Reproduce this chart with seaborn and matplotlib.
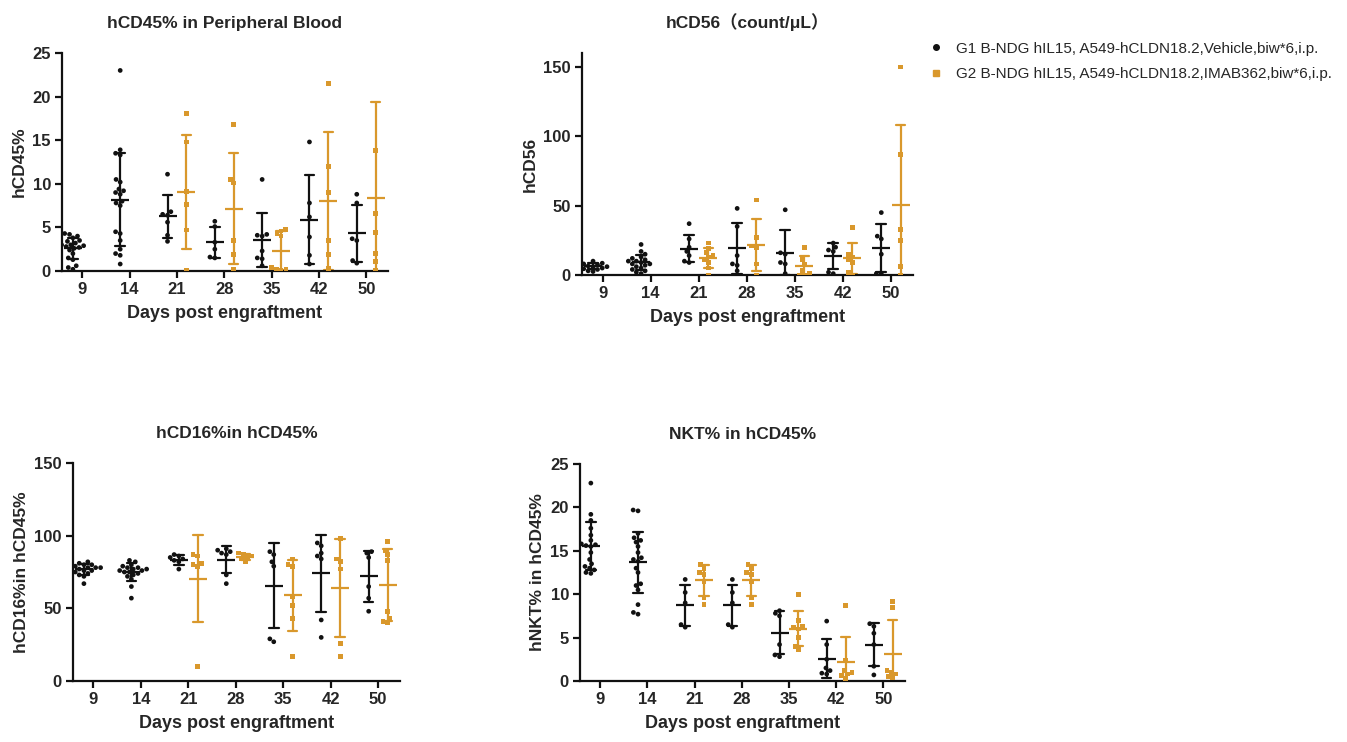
import warnings
import pandas as pd
import matplotlib.pyplot as plt
from matplotlib.lines import Line2D
import seaborn as sns

warnings.filterwarnings('ignore')

days = ['9', '14', '21', '28', '35', '42', '50']
G1 = 'G1 B-NDG hIL15, A549-hCLDN18.2,Vehicle,biw*6,i.p.'
G2 = 'G2 B-NDG hIL15, A549-hCLDN18.2,IMAB362,biw*6,i.p.'
groups = [G1, G2]
colors = {G1: '#111111', G2: '#D9982C'}

# hCD45% in peripheral blood (one list per day)
cd45_g1 = [
    [4.3, 4.2, 4.0, 3.8, 3.5, 3.4, 3.2, 3.0, 3.0, 2.9, 2.8, 2.7, 2.6, 2.4, 2.0, 1.5, 1.3, 0.6, 0.4, 0.2],
    [23.0, 13.9, 13.5, 13.3, 10.5, 10.2, 9.4, 9.2, 9.0, 8.8, 8.0, 7.8, 7.5, 4.5, 4.3, 3.5, 2.5, 2.0, 1.8, 0.8],
    [11.1, 6.8, 6.5, 6.4, 5.6, 4.1, 3.4],
    [5.7, 5.1, 3.3, 2.5, 1.6, 1.5],
    [10.5, 4.2, 4.1, 4.0, 2.3, 1.5, 1.4, 0.6],
    [14.8, 7.8, 6.2, 3.9, 1.8, 0.8],
    [8.8, 7.8, 3.7, 3.5, 1.2, 0.9],
]
cd45_g2 = [
    [], [],
    [18.1, 14.8, 9.1, 7.6, 4.7, 0.1],
    [16.8, 10.5, 10.1, 3.5, 1.9, 0.2],
    [4.8, 4.6, 4.3, 4.0, 0.4, 0.2, 0.2, 0.1],
    [21.5, 12.0, 9.0, 3.5, 1.9, 0.3],
    [31.0, 13.8, 6.6, 4.4, 2.0, 1.1, 0.1],
]

# hCD56 count/uL
cd56_g1 = [
    [10, 9, 8.5, 8, 7.5, 7, 6.5, 6, 6, 5.5, 5, 4.5, 4, 3, 2.5],
    [22, 17, 15, 13, 12, 11, 10, 10, 9, 8, 8, 7, 6, 5, 4, 3, 2, 1],
    [37, 26, 20, 17, 14, 10, 9],
    [48, 35, 14, 8, 7, 3],
    [47, 16, 15, 9, 8, 1],
    [23, 20, 18, 17, 2, 1],
    [45, 28, 26, 15, 1, 1],
]
cd56_g2 = [
    [], [],
    [23, 19, 16, 14, 13, 11, 9, 5, 0],
    [54, 27, 21, 20, 8, 0],
    [20, 11, 8, 3, 1, 0, 0],
    [34, 15, 13, 11, 9, 2, 0],
    [150, 87, 33, 25, 6, 0],
]

# hCD16% in hCD45%
cd16_g1 = [
    [82, 81, 80, 80, 79, 79, 78, 78, 78, 77, 77, 76, 76, 75, 74, 73, 72, 67],
    [83, 82, 80, 79, 78, 78, 77, 77, 76, 76, 75, 75, 74, 73, 72, 70, 65, 57],
    [87, 86, 85, 84, 83, 82, 77],
    [91, 90, 89, 88, 87, 73, 67],
    [89, 87, 82, 79, 29, 27],
    [95, 93, 88, 86, 84, 42, 30],
    [89, 88, 85, 65, 57, 48],
]
cd16_g2 = [
    [], [],
    [87, 86, 81, 80, 79, 10],
    [88, 87, 86, 85, 84, 82],
    [84, 80, 79, 58, 52, 43, 17],
    [98, 84, 82, 77, 26, 17],
    [96, 90, 87, 83, 48, 43, 41, 40],
]

# hNKT% in hCD45%
nkt_g1 = [
    [22.8, 19.2, 18.5, 17.6, 16.8, 16.2, 15.8, 15.7, 15.6, 15.5, 14.8, 14.0, 13.5, 13.2, 13.0, 12.8, 12.5, 12.4],
    [19.7, 19.6, 17.0, 16.5, 16.2, 16.0, 15.5, 14.8, 14.2, 14.0, 13.8, 13.0, 12.5, 11.2, 11.0, 10.5, 8.8, 7.9, 7.7],
    [11.7, 10.2, 9.0, 6.5, 6.2],
    [11.7, 10.2, 9.0, 6.5, 6.2],
    [8.1, 7.8, 7.5, 4.2, 3.0, 2.8],
    [6.9, 4.2, 2.5, 1.5, 1.2, 0.9, 0.8],
    [6.6, 6.3, 5.5, 4.2, 1.7, 0.7],
]
nkt_g2 = [
    [], [],
    [13.4, 13.0, 12.5, 12.3, 11.5, 9.6, 8.8],
    [13.4, 13.0, 12.5, 12.3, 11.5, 9.6, 8.8],
    [10.0, 7.0, 6.3, 6.2, 6.0, 5.0, 4.0, 3.6],
    [8.7, 2.4, 1.2, 1.0, 0.8, 0.6, 0.3],
    [9.2, 8.5, 1.2, 1.0, 0.8, 0.5, 0.4],
]

sns.set_style('ticks')
plt.rcParams['font.family'] = ['Liberation Sans', 'Noto Sans CJK SC', 'DejaVu Sans']


def long_df(g1, g2):
    rows = []
    for day, vals in zip(days, g1):
        rows += [(day, G1, v) for v in vals]
    for day, vals in zip(days, g2):
        rows += [(day, G2, v) for v in vals]
    return pd.DataFrame(rows, columns=['day', 'group', 'value'])


def draw(ax, df, title, ylabel, ylim, yticks):
    for grp, mk in [(G1, 'o'), (G2, 's')]:
        sns.swarmplot(data=df[df.group == grp], x='day', y='value', hue='group',
                      order=days, hue_order=groups, palette=colors, dodge=True,
                      size=3.4, marker=mk, legend=False, ax=ax)
    sns.pointplot(data=df, x='day', y='value', hue='group', order=days, hue_order=groups,
                  palette=colors, dodge=0.4, errorbar='sd', capsize=0.2,
                  linestyle='none', marker='_', markersize=13, markeredgewidth=1.6,
                  err_kws={'linewidth': 1.6}, legend=False, ax=ax)
    ax.set_xlim(-0.43, 6.46)
    ax.set_ylim(*ylim)
    ax.set_yticks(yticks)
    sns.despine(ax=ax)
    for s in ['left', 'bottom']:
        ax.spines[s].set_linewidth(1.6)
        ax.spines[s].set_color('#111111')
    ax.tick_params(width=1.6, length=5, labelsize=12, color='#111111', pad=3)
    for lab in ax.get_xticklabels() + ax.get_yticklabels():
        lab.set_fontweight('bold')
    ax.set_title(title, fontsize=12.5, fontweight='bold', pad=18)
    ax.set_xlabel('Days post engraftment', fontsize=13, fontweight='bold', labelpad=6)
    ax.set_ylabel(ylabel, fontsize=12.5, fontweight='bold', labelpad=4)


fig = plt.figure(figsize=(13.47, 7.42), dpi=100)
W, H = 1347, 742


def axes_px(x0, x1, y0, y1):
    return fig.add_axes([x0 / W, 1 - y1 / H, (x1 - x0) / W, (y1 - y0) / H])


ax1 = axes_px(62, 388, 53, 271)
ax2 = axes_px(582, 913, 53, 275)
ax3 = axes_px(73, 400, 463, 681)
ax4 = axes_px(580, 905, 464, 681)

draw(ax1, long_df(cd45_g1, cd45_g2), 'hCD45% in Peripheral Blood', 'hCD45%', (0, 25), [0, 5, 10, 15, 20, 25])
draw(ax2, long_df(cd56_g1, cd56_g2), 'hCD56（count/μL）', 'hCD56', (0, 160), [0, 50, 100, 150])
draw(ax3, long_df(cd16_g1, cd16_g2), 'hCD16%in hCD45%', 'hCD16%in hCD45%', (0, 150), [0, 50, 100, 150])
draw(ax4, long_df(nkt_g1, nkt_g2), 'NKT% in hCD45%', 'hNKT% in hCD45%', (0, 25), [0, 5, 10, 15, 20, 25])

handles = [
    Line2D([], [], marker='o', linestyle='none', color=colors[G1], markersize=4),
    Line2D([], [], marker='s', linestyle='none', color=colors[G2], markersize=4),
]
fig.legend(handles, groups, loc='upper left', bbox_to_anchor=(913 / W, 1 - 28 / H),
           frameon=False, fontsize=11, labelspacing=0.75, handletextpad=0.7,
           handlelength=1.2)

fig.savefig('out.png', dpi=100)
